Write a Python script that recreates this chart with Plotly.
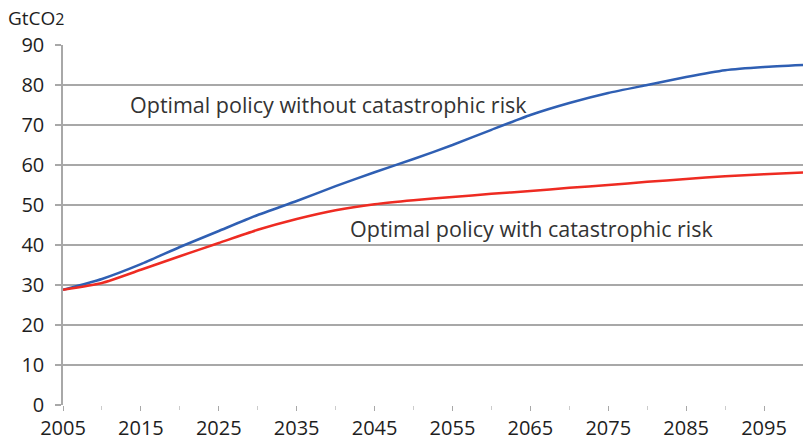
import plotly.graph_objects as go

years = [2005, 2010, 2015, 2020, 2025, 2030, 2035, 2040, 2045, 2050,
         2055, 2060, 2065, 2070, 2075, 2080, 2085, 2090, 2095, 2100]
without_risk = [28.8, 31.5, 35.2, 39.5, 43.5, 47.5, 51.0, 54.7, 58.2, 61.5,
                65.0, 68.8, 72.5, 75.5, 78.0, 80.0, 82.0, 83.7, 84.5, 85.0]
with_risk = [28.8, 30.5, 33.8, 37.2, 40.5, 43.8, 46.5, 48.7, 50.2, 51.2,
             52.0, 52.8, 53.5, 54.3, 55.0, 55.8, 56.5, 57.2, 57.7, 58.1]
x_ticks = [2005, 2015, 2025, 2035, 2045, 2055, 2065, 2075, 2085, 2095]
y_ticks = [0, 10, 20, 30, 40, 50, 60, 70, 80, 90]

FONT = "Open Sans"
TXT = "#1e1e1e"
GRID = "#a8a8a8"

fig = go.Figure()
fig.add_trace(go.Scatter(x=years, y=without_risk, mode="lines",
                         line=dict(color="#2f5fb3", width=2.5, shape="spline", smoothing=0.5),
                         name="Optimal policy without catastrophic risk", showlegend=False))
fig.add_trace(go.Scatter(x=years, y=with_risk, mode="lines",
                         line=dict(color="#ee2b22", width=2.5, shape="spline", smoothing=0.5),
                         name="Optimal policy with catastrophic risk", showlegend=False))

fig.add_annotation(xref="paper", yref="paper", x=(328 - 63) / 740, y=(405 - 104) / 360,
                   text="Optimal policy without catastrophic risk", showarrow=False,
                   font=dict(family=FONT, size=21.5, color="#333333"), xanchor="center", yanchor="middle")
fig.add_annotation(xref="paper", yref="paper", x=(532 - 63) / 740, y=(405 - 228) / 360,
                   text="Optimal policy with catastrophic risk", showarrow=False,
                   font=dict(family=FONT, size=21.5, color="#333333"), xanchor="center", yanchor="middle")
fig.add_annotation(xref="paper", yref="paper", x=(6 - 63) / 740, y=(405 - 18) / 360,
                   text="GtCO<span style='font-size:16px'>2</span>", showarrow=False,
                   font=dict(family=FONT, size=19, color=TXT), xanchor="left", yanchor="middle")

fig.update_layout(
    width=803, height=441,
    margin=dict(l=63, r=0, t=45, b=36, pad=0),
    paper_bgcolor="white", plot_bgcolor="white",
    font=dict(family=FONT, size=20, color=TXT),
    xaxis=dict(range=[2005, 2100], tickvals=x_ticks, ticktext=[str(v) for v in x_ticks],
               showgrid=False, zeroline=False, showline=False,
               ticks="outside", ticklen=5, tickcolor=GRID, tickwidth=1,
               ticklabelstandoff=0,
               minor=dict(dtick=5, tick0=2005, ticks="outside", ticklen=4, tickcolor="#cccccc", showgrid=False),
               tickfont=dict(family=FONT, size=20, color=TXT)),
    yaxis=dict(range=[0, 90], tickvals=y_ticks, showgrid=True, gridcolor=GRID, gridwidth=1.5,
               zeroline=False, showline=True, linecolor=GRID, linewidth=1.5,
               ticks="outside", ticklen=6, tickcolor=GRID, tickwidth=1.5,
               ticklabelstandoff=7,
               tickfont=dict(family=FONT, size=20, color=TXT)),
)

fig.write_html("out.html", config={"displayModeBar": False},
               post_script="document.body.style.margin='0';document.body.style.overflow='hidden';")
